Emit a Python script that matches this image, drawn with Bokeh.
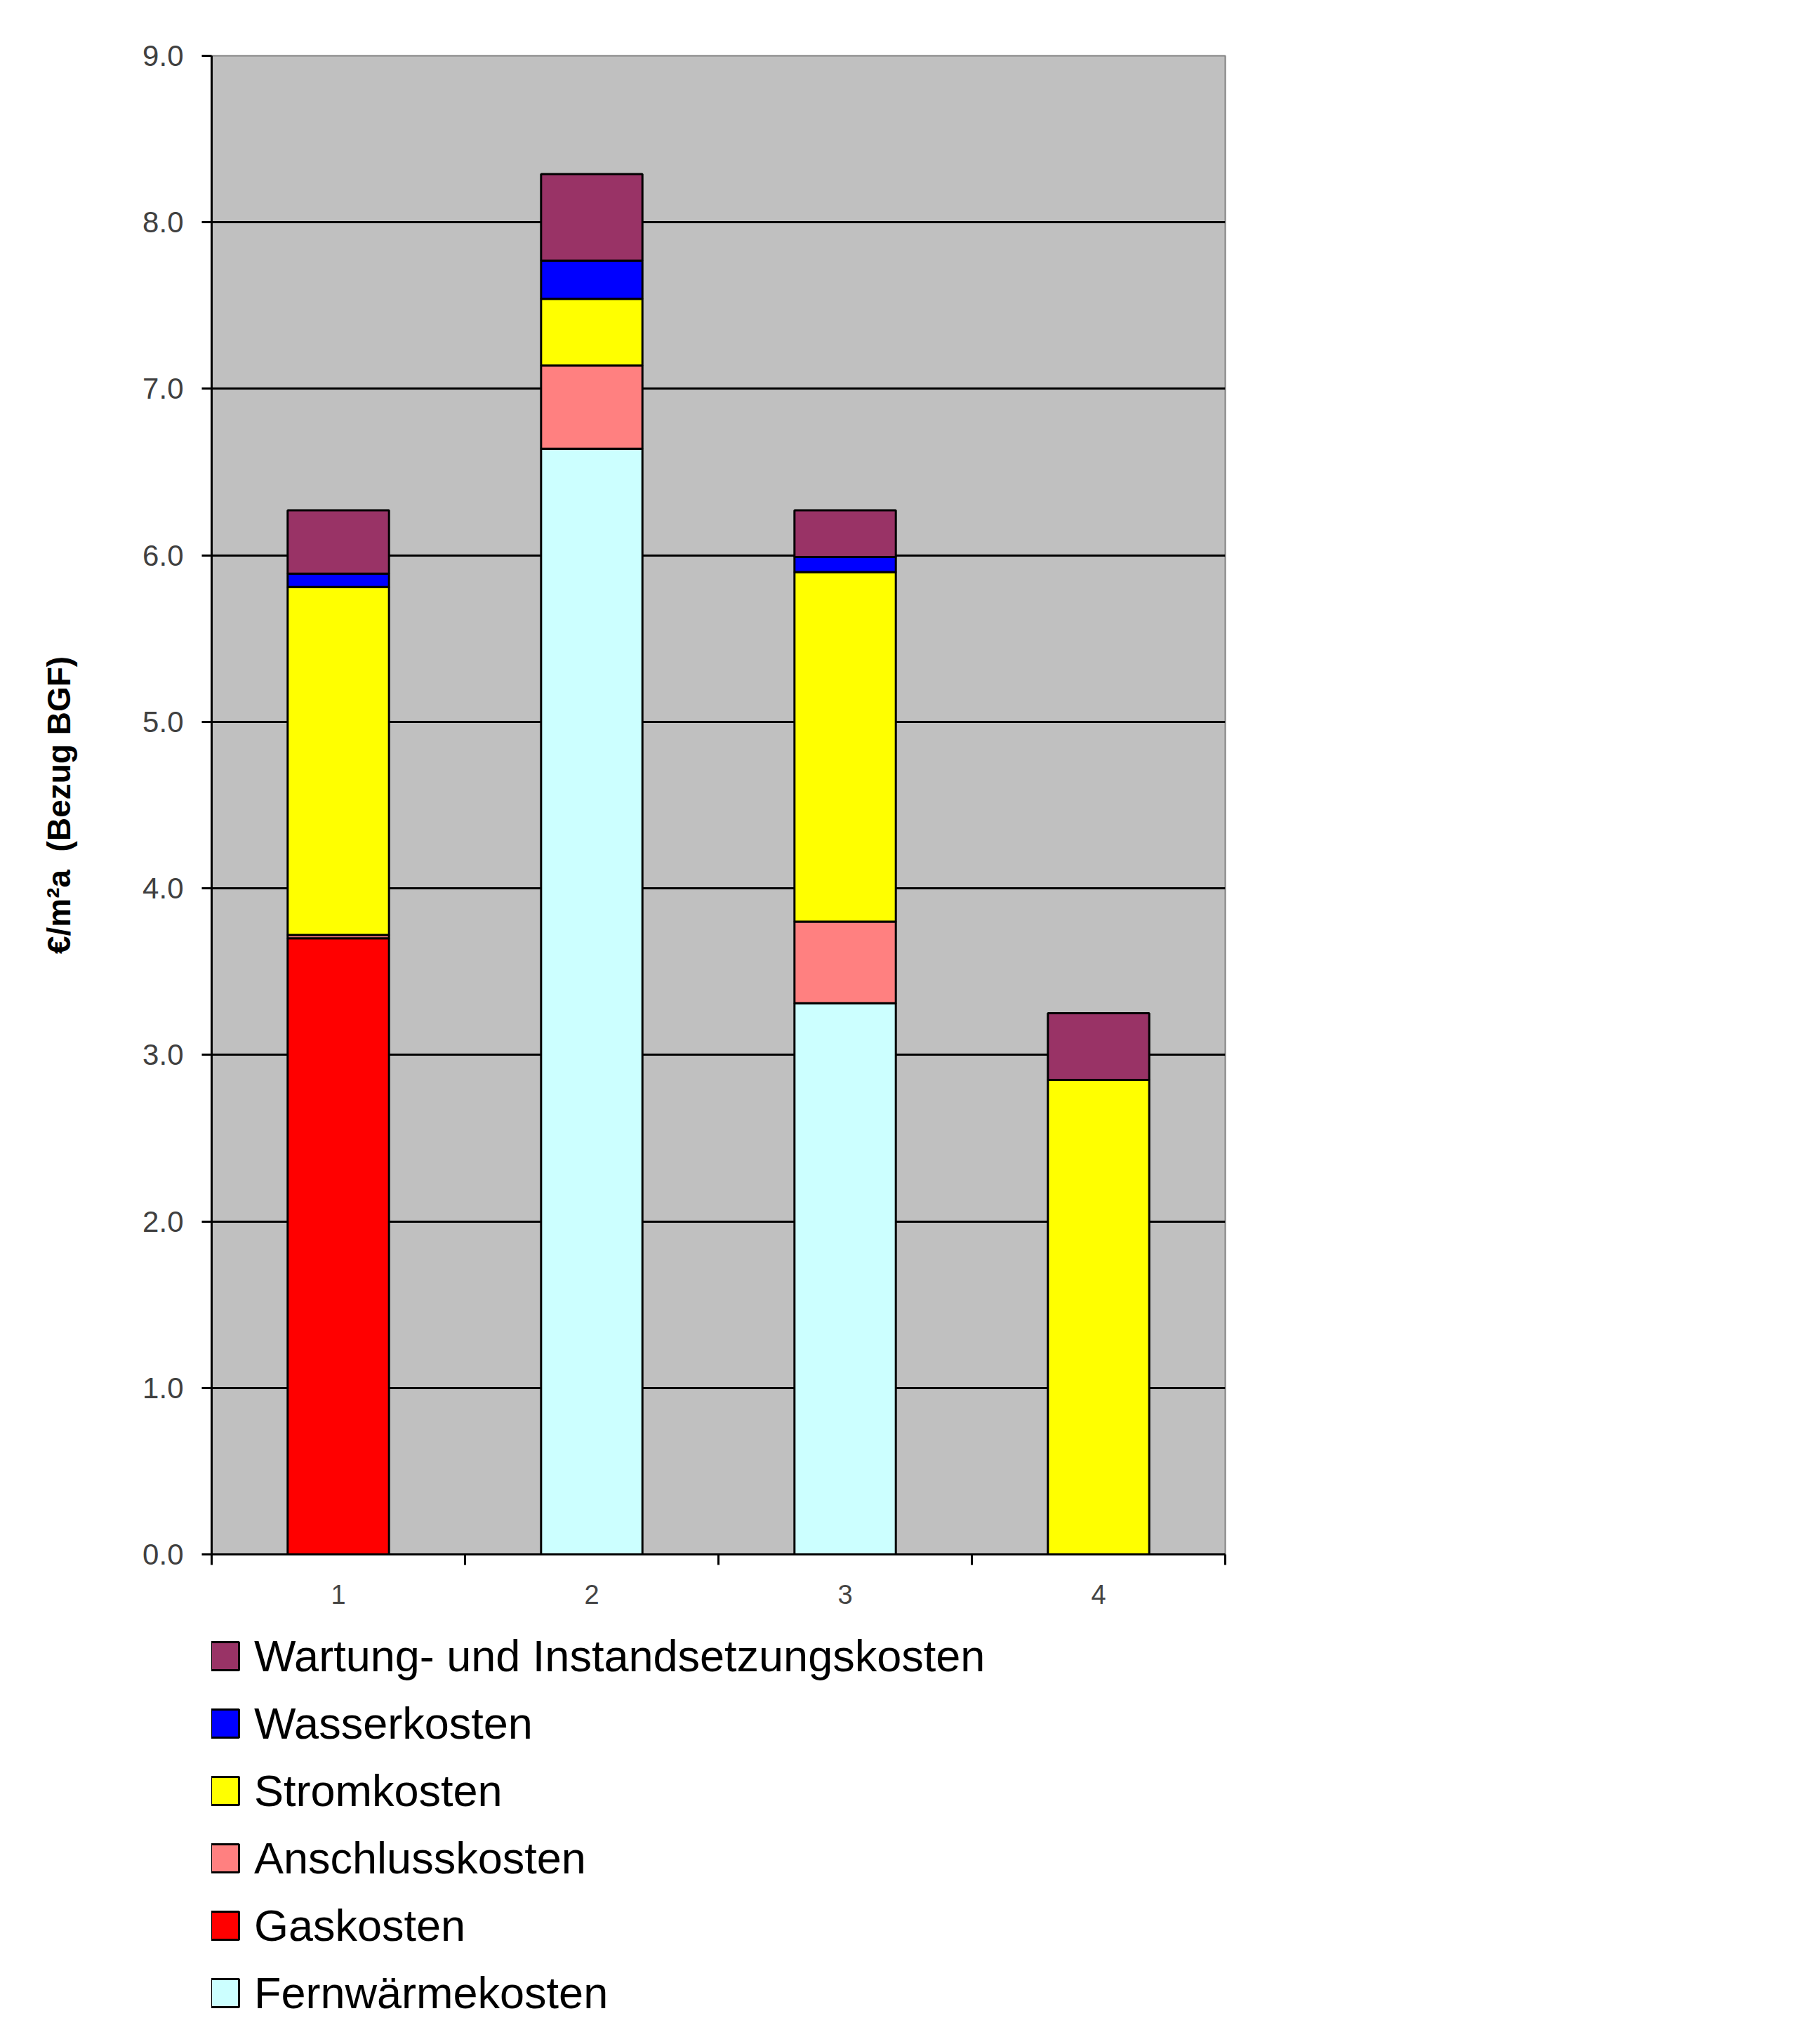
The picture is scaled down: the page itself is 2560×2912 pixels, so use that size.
from bokeh.plotting import figure
from bokeh.layouts import column
from bokeh.models import (Range1d, FixedTicker, ColumnDataSource, Legend, LegendItem,
                          PrintfTickFormatter)
from bokeh.embed import file_html
from bokeh.resources import INLINE

# ---- data ----
categories = ["1", "2", "3", "4"]
fernwaerme = [0.00, 6.64, 3.31, 0.00]
gas = [3.70, 0.00, 0.00, 0.00]
anschluss = [0.02, 0.50, 0.49, 0.00]
strom = [2.09, 0.40, 2.10, 2.85]
wasser = [0.08, 0.23, 0.09, 0.00]
wartung = [0.38, 0.52, 0.28, 0.40]
series_labels = ["Fernwärmekosten", "Gaskosten", "Anschlusskosten", "Stromkosten",
                 "Wasserkosten", "Wartung- und Instandsetzungskosten"]
series_keys = ["fernwaerme", "gas", "anschluss", "strom", "wasser", "wartung"]
series_colors = ["#CCFFFF", "#FF0000", "#FF8080", "#FFFF00", "#0000FF", "#993366"]
y_ticks = [0, 1, 2, 3, 4, 5, 6, 7, 8, 9]
y_title = "€/m²a\u00a0\u00a0(Bezug BGF)"

x_pos = [i + 1 for i in range(len(categories))]
src = ColumnDataSource(dict(x=x_pos, fernwaerme=fernwaerme, gas=gas, anschluss=anschluss,
                            strom=strom, wasser=wasser, wartung=wartung))

W = 2400
H1 = 2323
H2 = 573
p = figure(width=W, height=H1,
           x_range=Range1d(0.5, len(categories) + 0.5),
           y_range=Range1d(y_ticks[0], y_ticks[-1]),
           output_backend="svg", toolbar_location=None,
           min_border_left=301, min_border_top=79, min_border_right=W - 1745,
           min_border_bottom=H1 - 2214,
           background_fill_color="#C0C0C0", border_fill_color="white")

p.outline_line_color = "#808080"
p.outline_line_width = 2

renderers = p.vbar_stack(series_keys, x="x", width=0.4, source=src,
                         fill_color=series_colors, line_color="black", line_width=3)

# grid
p.xgrid.visible = False
p.ygrid.ticker = FixedTicker(ticks=y_ticks[1:-1])
p.ygrid.grid_line_color = "black"
p.ygrid.grid_line_width = 3

# y axis
ya = p.yaxis[0]
ya.ticker = FixedTicker(ticks=y_ticks)
ya.formatter = PrintfTickFormatter(format="%.1f")
ya.major_tick_out = 14
ya.major_tick_in = 0
ya.minor_tick_out = 0
ya.minor_tick_in = 0
ya.major_tick_line_width = 3
ya.major_tick_line_color = "black"
ya.axis_line_color = "black"
ya.axis_line_width = 3
ya.major_label_text_font = "Liberation Sans"
ya.major_label_text_font_size = "42px"
ya.major_label_text_color = "#404040"
ya.major_label_standoff = 26
ya.axis_label = y_title
ya.axis_label_text_font = "Liberation Sans"
ya.axis_label_text_font_style = "bold"
ya.axis_label_text_font_size = "46px"
ya.axis_label_text_color = "black"
ya.axis_label_standoff = 90

# x axis
xa = p.xaxis[0]
xa.ticker = FixedTicker(ticks=x_pos, minor_ticks=[i + 0.5 for i in range(len(categories) + 1)])
xa.major_label_overrides = {xp: c for xp, c in zip(x_pos, categories)}
xa.major_tick_out = 0
xa.major_tick_in = 0
xa.minor_tick_out = 15
xa.minor_tick_in = 0
xa.minor_tick_line_width = 3
xa.minor_tick_line_color = "black"
xa.axis_line_color = "black"
xa.axis_line_width = 3
xa.major_label_text_font = "Liberation Sans"
xa.major_label_text_font_size = "38px"
xa.major_label_text_color = "#444444"
xa.major_label_standoff = 28

# ---- legend panel below the chart ----
# same stacked bars (hidden) provide the legend swatches
pl = figure(width=W, height=H2, x_range=Range1d(10, 11), y_range=Range1d(100, 101),
            output_backend="svg", toolbar_location=None,
            x_axis_location=None, y_axis_location=None,
            min_border_left=301, min_border_top=6, min_border_right=0, min_border_bottom=0,
            background_fill_color="white", border_fill_color="white")
pl.outline_line_color = None
pl.grid.visible = False
swatches = pl.vbar_stack(series_keys, x="x", width=0.4, source=src,
                         fill_color=series_colors, line_color="black", line_width=3)
for r in swatches:
    r.visible = False
items = [LegendItem(label=series_labels[i], renderers=[swatches[i]])
         for i in reversed(range(len(series_keys)))]
legend = Legend(items=items, location="top_left", orientation="vertical",
                glyph_width=50, glyph_height=50, label_standoff=17,
                spacing=24, label_height=40, padding=0, margin=-6,
                border_line_color=None, background_fill_alpha=0,
                inactive_fill_alpha=0,
                label_text_font="Liberation Sans", label_text_font_size="63px",
                label_text_color="black")
pl.add_layout(legend)

layout = column(p, pl, spacing=0)
open("out.html", "w").write(file_html(layout, INLINE))
